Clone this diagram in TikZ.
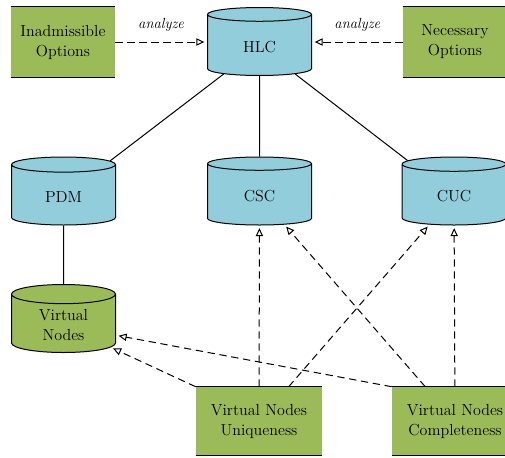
\documentclass[tikz,border=0pt]{standalone}
\usetikzlibrary{shapes.geometric, arrows.meta}

\definecolor{vgreen}{HTML}{9BBB59}
\definecolor{vblue}{HTML}{92CDDC}

\begin{document}
\begin{tikzpicture}[x=0.75pt, y=-0.75pt,
  font=\fontsize{12}{15}\selectfont,
  box/.style={fill=vgreen, minimum width=78pt, minimum height=52.5pt,
    align=center, inner sep=0pt},
  widebox/.style={box, minimum width=94.5pt, minimum height=51pt},
  db/.style={cylinder, shape border rotate=90, draw, line width=0.75pt,
    fill=vblue, minimum width=78pt, minimum height=51pt, aspect=0.33,
    align=center, anchor=shape center},
  link/.style={line width=0.75pt},
  dep/.style={line width=0.75pt, dash pattern=on 5.5pt off 3.5pt,
    -{Triangle[open, length=6pt, width=5.5pt]}, shorten >=2pt},
  lbl/.style={font=\fontsize{11}{13}\selectfont\itshape}
]
\useasboundingbox (0,0) rectangle (505,457);

% stores
\node[db] (hlc) at (259.5,41.5) {HLC};
\node[db] (pdm) at (63.5,191) {PDM};
\node[db] (csc) at (259.5,191) {CSC};
\node[db] (cuc) at (454,191) {CUC};
\node[db, fill=vgreen] (vn) at (63.5,318.5) {Virtual\\Nodes};

% option and check boxes
\node[box] (inad) at (63,42) {Inadmissible\\Options};
\node[box] (nec) at (455,42) {Necessary\\Options};
\node[widebox] (uniq) at (259,421) {Virtual Nodes\\Uniqueness};
\node[widebox] (comp) at (455,421) {Virtual Nodes\\Completeness};

% boxes carry only a top and a bottom rule
\foreach \b in {inad, nec, uniq, comp} {
  \draw[link] (\b.north west) -- (\b.north east);
  \draw[link] (\b.south west) -- (\b.south east);
}

% hierarchy
\draw[link] (hlc) -- (pdm);
\draw[link] (hlc) -- (csc);
\draw[link] (hlc) -- (cuc);
\draw[link] (pdm) -- (vn);

% analysis inputs
\draw[dep] (inad.east) -- (inad.east -| hlc.west)
  node[lbl, midway, yshift=12.5pt] {analyze};
\draw[dep] (nec.west) -- (nec.west -| hlc.east)
  node[lbl, midway, yshift=12.5pt] {analyze};

% checks
\draw[dep] (uniq) -- (csc);
\draw[dep] (uniq) -- (cuc);
\draw[dep] (comp) -- (csc);
\draw[dep] (comp) -- (cuc);
\draw[dep] (uniq.north west) -- (vn);
\draw[dep] (comp.north west) -- (vn);
\end{tikzpicture}
\end{document}
